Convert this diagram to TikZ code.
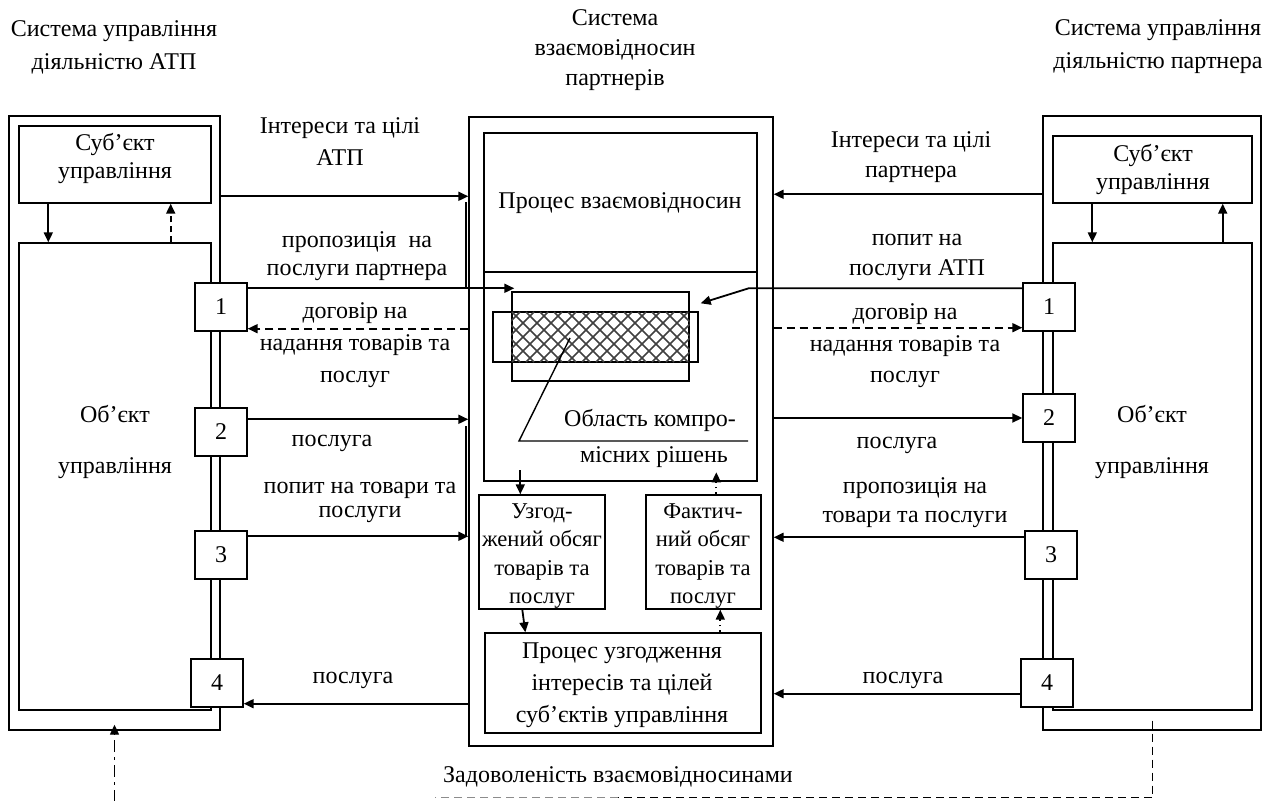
\documentclass[tikz,border=0pt]{standalone}
\usepackage{fontspec}
\setmainfont{Liberation Serif}
\usetikzlibrary{arrows.meta,positioning,fit,calc}
\tikzstyle{box} = [rectangle, draw, line width=0.7pt, inner sep=0pt]
\tikzstyle{numbox} = [rectangle, draw, fill=white, line width=0.7pt,
    minimum width=26pt, minimum height=24pt, inner sep=0pt]
\tikzstyle{arrow} = [line width=0.9pt, -{Triangle[length=5pt,width=4.5pt]}]
\tikzstyle{lbl} = [align=center, inner sep=0pt]
\tikzstyle{hatchline} = [line width=0.85pt, black!75]

\begin{document}
\begin{tikzpicture}[x=0.5pt, y=-0.5pt, font=\fontsize{12}{15}\selectfont]
\useasboundingbox (0,0) rectangle (1269,801);

% titles
\node[lbl, font=\fontsize{12}{16.5}\selectfont] (tleft) at (114,47) {Система управління\\діяльністю АТП};
\node[lbl] (tmid) at (615,50) {Система\\взаємовідносин\\партнерів};
\node[lbl, font=\fontsize{12}{16.5}\selectfont] (tright) at (1158,47) {Система управління\\діяльністю партнера};

% left system
\node[box, fit={(9,116) (220,730)}] (lsys) {};
\node[box, fit={(19,126) (211,203)}] (lsubj) {};
\node[lbl, font=\fontsize{12}{14}\selectfont] (lsubjt) at (115,159) {Суб’єкт\\управління};
\node[box, fit={(19,243) (211,710)}] (lobj) {};
\node[lbl, font=\fontsize{12}{25.5}\selectfont] (lobjt) at (115,442) {Об’єкт\\управління};
\node[numbox] (l1) at (221,307) {1};
\node[numbox] (l2) at (221,432) {2};
\node[numbox] (l3) at (221,555) {3};
\node[numbox] (l4) at (217,683) {4};

% centre system
\node[box, fit={(469,117) (773,746)}] (cout) {};
\node[box, fit={(484,133) (757,272)}] (rel) {};
\node[lbl] (relt) at (620,203) {Процес взаємовідносин};
\node[box, fit={(484,272) (757,481)}] (comp) {};
\node[box, fit={(512,292) (689,381)}] (rega) {};
\node[box, fit={(493,312) (698,362)}] (regb) {};
\begin{scope}
  \clip (rega.west |- regb.north) rectangle (rega.east |- regb.south);
  \foreach \i in {-4,...,13} {
    \draw[hatchline] (512+\i*14,312) -- ++(50,50);
    \draw[hatchline] (512+\i*14,362) -- ++(50,-50);
  }
\end{scope}
\coordinate (hk) at (570,338);
\coordinate (lk) at (519,441);
\coordinate (lke) at (748,441);
\draw[line width=0.7pt] (hk) -- (lk) -- (lke);
\node[lbl] (obl1) at (650,420) {Область компро-};
\node[lbl] (obl2) at (654,457) {місних рішень};
\node[box, fit={(479,495) (605,609)}] (agr) {};
\node[lbl, font=\fontsize{11.3}{14.3}\selectfont] (agrt) at (542,556) {Узгод-\\жений обсяг\\товарів та\\послуг};
\node[box, fit={(646,495) (761,609)}] (fact) {};
\node[lbl, font=\fontsize{11.3}{14.3}\selectfont] (factt) at (703,556) {Фактич-\\ний обсяг\\товарів та\\послуг};
\node[box, fit={(485,633) (761,733)}] (coord) {};
\node[lbl, font=\fontsize{12}{16}\selectfont] (coordt) at (622,685) {Процес узгодження\\інтересів та цілей\\суб’єктів управління};

% right system
\node[box, fit={(1043,116) (1261,730)}] (rsys) {};
\node[box, fit={(1053,136) (1252,203)}] (rsubj) {};
\node[lbl, font=\fontsize{12}{14}\selectfont] (rsubjt) at (1153,170) {Суб’єкт\\управління};
\node[box, fit={(1053,243) (1252,710)}] (robj) {};
\node[lbl, font=\fontsize{12}{25.5}\selectfont] (robjt) at (1152,442) {Об’єкт\\управління};
\node[numbox] (r1) at (1049,307) {1};
\node[numbox] (r2) at (1049,418) {2};
\node[numbox] (r3) at (1051,555) {3};
\node[numbox] (r4) at (1047,683) {4};

% labels
\node[lbl, font=\fontsize{12}{16}\selectfont] (lint) at (340,142) {Інтереси та цілі\\АТП};
\node[lbl, font=\fontsize{12}{14}\selectfont] (lprop) at (357,256) {пропозиція\ \ на\\послуги партнера};
\node[lbl, font=\fontsize{12}{16}\selectfont] (ldog) at (355,345) {договір на\\надання товарів та\\послуг};
\node[lbl] (lpos1) at (332,443) {послуга};
\node[lbl, font=\fontsize{12}{12}\selectfont] (lpop) at (360,502) {попит на товари та\\послуги};
\node[lbl] (lpos2) at (353,680) {послуга};
\node[lbl, font=\fontsize{12}{15}\selectfont] (rint) at (911,157) {Інтереси та цілі\\партнера};
\node[lbl, font=\fontsize{12}{15}\selectfont] (rpop) at (917,257) {попит на\\послуги АТП};
\node[lbl, font=\fontsize{12}{15.75}\selectfont] (rdog) at (905,346) {договір на\\надання товарів та\\послуг};
\node[lbl] (rpos1) at (897,445) {послуга};
\node[lbl, font=\fontsize{12}{14.5}\selectfont] (rprop) at (915,503) {пропозиція на\\товари та послуги};
\node[lbl] (rpos2) at (903,680) {послуга};
\node[lbl] (sat) at (618,777) {Задоволеність взаємовідносинами};

% left connectors
\draw[arrow] ([xshift=15pt]lsubj.south west) -- ([xshift=15pt]lobj.north west);
\draw[arrow, dash pattern=on 3pt off 2pt] ([xshift=-20.5pt]lobj.north east) -- ([xshift=-20.5pt]lsubj.south east);
\coordinate (ya1) at ([yshift=-40.5pt]lsys.north east);
\draw[arrow] (ya1) -- (ya1 -| cout.west);
\coordinate (ya2) at ([yshift=-3pt]l1.north east);
\draw[arrow] (ya2) -- ($(ya2 -| rega.west)+(3,0)$);
\coordinate (ya3) at ([yshift=1.5pt]l1.south east);
\draw[arrow, dash pattern=on 4pt off 2.5pt] (ya3 -| cout.west) -- (ya3);
\coordinate (ya4) at ([yshift=-6pt]l2.north east);
\draw[arrow] (ya4) -- (ya4 -| cout.west);
\coordinate (ya5) at ([yshift=-3pt]l3.north east);
\draw[arrow] (ya5) -- (ya5 -| cout.west);
\coordinate (ya6) at ([yshift=2pt]l4.south east);
\draw[arrow] (ya6 -| cout.west) -- (ya6);
\draw[line width=0.9pt] ($(ya1 -| cout.west)+(-2,6)$) -- ($(ya2 -| cout.west)+(-2,0)$);
\draw[line width=0.9pt] ($(ya4 -| cout.west)+(-2,7)$) -- ($(ya5 -| cout.west)+(-2,0)$);

% right connectors
\draw[arrow] ([xshift=20pt]rsubj.south west) -- ([xshift=20pt]robj.north west);
\draw[arrow] ([xshift=-15pt]robj.north east) -- ([xshift=-15pt]rsubj.south east);
\coordinate (yb1) at ([yshift=-39.5pt]rsys.north west);
\draw[arrow] (yb1) -- (yb1 -| cout.east);
\coordinate (yb2) at ([yshift=-3pt]r1.north west);
\draw[arrow] (yb2) -- ($(yb2 -| comp.east)+(-9,0)$) -- ($(rega.north east)+(11,12)$);
\coordinate (yb3) at ([yshift=2pt]r1.south west);
\draw[arrow, dash pattern=on 4pt off 2.5pt] (yb3 -| cout.east) -- (yb3);
\coordinate (yb4) at (r2.west);
\draw[arrow] (yb4 -| cout.east) -- (yb4);
\coordinate (yb5) at ([yshift=-3.5pt]r3.north west);
\draw[arrow] (yb5) -- (yb5 -| cout.east);
\coordinate (yb6) at ([yshift=7pt]r4.south west);
\draw[arrow] (yb6) -- (yb6 -| cout.east);

% centre connectors
\draw[arrow] ($(agr.north west)+(42,-24)$) -- ($(agr.north west)+(42,0)$);
\draw[arrow, dotted] ($(fact.north west)+(71,0)$) -- ($(fact.north west)+(71,-22)$);
\draw[arrow] ($(agr.south west)+(44,0)$) -- ($(coord.north west)+(41,0)$);
\draw[arrow, dotted] ($(coord.north west)+(236,0)$) -- ($(fact.south west)+(75,0)$);

% satisfaction feedback
\coordinate (sl) at ($(lsys.south)+(0,71)$);
\draw[arrow, line width=0.7pt, dash pattern=on 6pt off 2.5pt on 1.5pt off 2.5pt] (sl) -- ($(lsys.south)+(0,-6)$);
\coordinate (sr) at ($(robj.south)+(0,10)$);
\coordinate (sc) at ($(sr)+(0,77)$);
\draw[line width=0.7pt, dash pattern=on 4pt off 2.5pt] (sr) -- (sc) -- ($(sc -| sat.center)$);
\draw[line width=0.7pt, dash pattern=on 4pt off 2.5pt, black!45] ($(sc -| sat.center)$) -- ($(sc -| sat.west)+(-8,0)$);
\end{tikzpicture}
\end{document}
